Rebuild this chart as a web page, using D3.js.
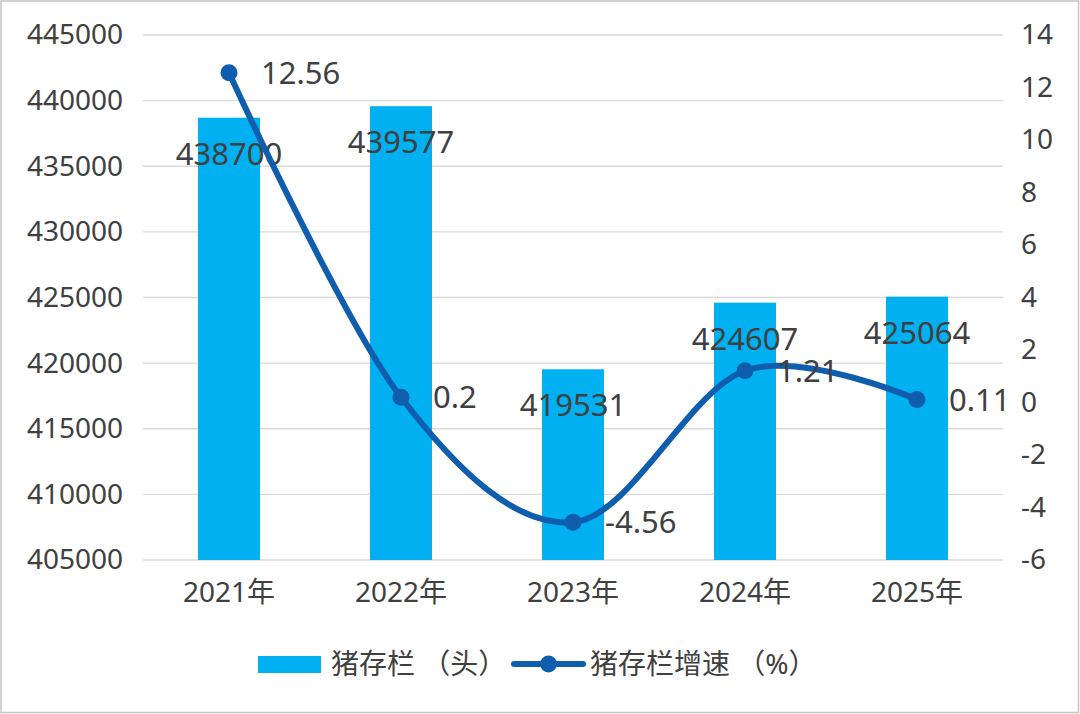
<!DOCTYPE html>
<html>
<head>
<meta charset="utf-8">
<script src="https://cdn.jsdelivr.net/npm/d3@7/dist/d3.min.js"></script>
<style>
  html, body { margin: 0; padding: 0; background: #fff; }
  svg { display: block; }
  text { font-family: "Noto Sans", "Open Sans", "Noto Sans CJK SC", sans-serif; fill: #404040; }
</style>
</head>
<body>
<svg id="chart" width="1080" height="714"></svg>
<script>
// ---- data ----
const categories = ["2021年", "2022年", "2023年", "2024年", "2025年"];
const stockValues = [438700, 439577, 419531, 424607, 425064];   // 猪存栏（头）
const growthValues = [12.56, 0.2, -4.56, 1.21, 0.11];            // 猪存栏增速（%）
const leftTicks = [405000, 410000, 415000, 420000, 425000, 430000, 435000, 440000, 445000];
const rightTicks = [-6, -4, -2, 0, 2, 4, 6, 8, 10, 12, 14];
const seriesNames = ["猪存栏 （头）", "猪存栏增速 （%）"];

// ---- layout ----
const W = 1080, H = 714;
const plot = { left: 143, right: 1003, top: 35, bottom: 560 };
const barColor = "#00B0F0";
const lineColor = "#0F5EAD";
const gridColor = "#D9D9D9";

const svg = d3.select("#chart");

svg.append("rect")
  .attr("x", 1).attr("y", 1).attr("width", W - 2.5).attr("height", H - 2.5)
  .attr("fill", "#fff").attr("stroke", "#C4C4C4").attr("stroke-width", 1.5);

const x = d3.scaleBand().domain(categories).range([plot.left, plot.right]).padding(0);
const yL = d3.scaleLinear().domain([405000, 445000]).range([plot.bottom, plot.top]);
const yR = d3.scaleLinear().domain([-6, 14]).range([plot.bottom, plot.top]);

// gridlines
svg.append("g").selectAll("line").data(leftTicks).join("line")
  .attr("x1", plot.left).attr("x2", plot.right)
  .attr("y1", d => yL(d)).attr("y2", d => yL(d))
  .attr("stroke", gridColor).attr("stroke-width", 1.3);

// left axis
const axL = svg.append("g").attr("transform", `translate(${plot.left},0)`)
  .call(d3.axisLeft(yL).tickValues(leftTicks).tickSize(0).tickPadding(20).tickFormat(d => String(d)));
axL.select(".domain").remove();
axL.selectAll("text").style("font-size", "28px").attr("fill", "#404040");

// right axis
const axR = svg.append("g").attr("transform", `translate(${plot.right},0)`)
  .call(d3.axisRight(yR).tickValues(rightTicks).tickSize(0).tickPadding(18).tickFormat(d => String(d)));
axR.select(".domain").remove();
axR.selectAll("text").style("font-size", "28px").attr("fill", "#404040");

// bottom axis
const axB = svg.append("g").attr("transform", `translate(0,${plot.bottom})`)
  .call(d3.axisBottom(x).tickSize(0).tickPadding(22));
axB.select(".domain").remove();
axB.selectAll("text").style("font-size", "28px").attr("fill", "#404040");

// bars
const barW = 62;
const rows = categories.map((c, i) => ({ c, v: stockValues[i], g: growthValues[i] }));
svg.append("g").selectAll("rect").data(rows).join("rect")
  .attr("x", d => x(d.c) + x.bandwidth() / 2 - barW / 2)
  .attr("width", barW)
  .attr("y", d => yL(d.v))
  .attr("height", d => plot.bottom - yL(d.v))
  .attr("fill", barColor);

// bar labels
svg.append("g").selectAll("text").data(rows).join("text")
  .attr("x", d => x(d.c) + x.bandwidth() / 2)
  .attr("y", d => yL(d.v) + 47)
  .attr("text-anchor", "middle")
  .style("font-size", "31px")
  .text(d => d.v);

// line
const lineGen = d3.line()
  .x(d => x(d.c) + x.bandwidth() / 2)
  .y(d => yR(d.g))
  .curve(d3.curveCardinal.tension(0));
svg.append("path").datum(rows)
  .attr("d", lineGen)
  .attr("fill", "none").attr("stroke", lineColor)
  .attr("stroke-width", 6).attr("stroke-linecap", "round");

svg.append("g").selectAll("circle").data(rows).join("circle")
  .attr("cx", d => x(d.c) + x.bandwidth() / 2)
  .attr("cy", d => yR(d.g))
  .attr("r", 8.5)
  .attr("fill", lineColor);

// line labels
svg.append("g").selectAll("text").data(rows).join("text")
  .attr("x", d => x(d.c) + x.bandwidth() / 2 + 32)
  .attr("y", d => yR(d.g) + 11)
  .attr("text-anchor", "start")
  .style("font-size", "31px")
  .text(d => String(d.g));

// legend
const leg = svg.append("g");
leg.append("rect").attr("x", 258).attr("y", 656).attr("width", 63).attr("height", 17).attr("fill", barColor);
leg.append("text").attr("x", 331).attr("y", 674).style("font-size", "28px").text(seriesNames[0]);
leg.append("line").attr("x1", 514).attr("x2", 583).attr("y1", 664).attr("y2", 664)
  .attr("stroke", lineColor).attr("stroke-width", 6).attr("stroke-linecap", "round");
leg.append("circle").attr("cx", 548.5).attr("cy", 664).attr("r", 8.5).attr("fill", lineColor);
leg.append("text").attr("x", 590).attr("y", 674).style("font-size", "28px").text(seriesNames[1]);
</script>
</body>
</html>
